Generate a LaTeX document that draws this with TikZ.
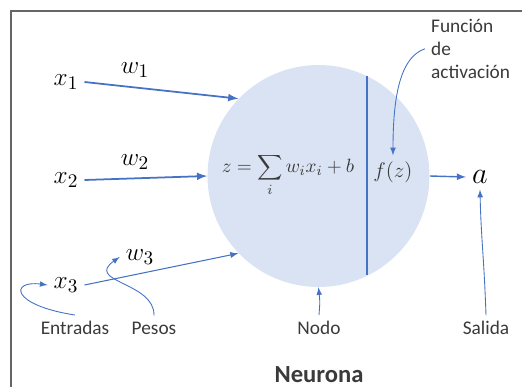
\documentclass[tikz,border=0pt]{standalone}
\usepackage{fontspec}
\setmainfont{Carlito}
\definecolor{azul}{HTML}{4472C4}
\definecolor{azulclaro}{HTML}{DAE3F3}
\definecolor{texto}{HTML}{3A3A3A}
\begin{document}
\begin{tikzpicture}[x=0.02cm, y=0.02cm, >=latex,
    entrada/.style={font=\fontsize{15}{17}\selectfont},
    peso/.style={font=\fontsize{15}{17}\selectfont},
    etiqueta/.style={font=\fontsize{11}{13}\selectfont, text=texto},
    flecha/.style={->, azul, line width=1pt},
    guia/.style={->, azul, line width=0.5pt}]
    \useasboundingbox (0,0) rectangle (522,387);

    % 1. Marco (solo borde superior e izquierdo)
    \draw[gray!80!black, line width=0.8pt] (11,0) -- (11,376) -- (522,376);

    % 2. Neurona
    \node[circle, fill=azulclaro, minimum size=222*0.02cm, inner sep=0pt] (neurona) at (318.5,211) {};
    \draw[azul, line width=1pt] (366.7,311) -- (366.7,112);
    \node[text=texto, font=\fontsize{11}{13}\selectfont] (suma) at (288,212) {$\displaystyle z=\sum_i w_i x_i+b$};
    \node[text=texto, font=\fontsize{12}{14}\selectfont] (fz) at (393,215) {$f(z)$};

    % 3. Entradas y pesos
    \node[entrada] (x1) at (66,305) {$x_1$};
    \node[entrada] (x2) at (66,207) {$x_2$};
    \node[entrada] (x3) at (66,102) {$x_3$};
    \node[peso] (w1) at (135,317) {$w_1$};
    \node[peso] (w2) at (135,225) {$w_2$};
    \node[peso] (w3) at (140,130) {$w_3$};
    \draw[flecha] (x1.east) -- (neurona.136);
    \draw[flecha] (x2.east) -- (neurona.west);
    \draw[flecha, line width=0.6pt] (x3.east) -- (neurona.224);

    % 4. Salida
    \node[font=\fontsize{17}{19}\selectfont] (a) at (480,210) {$a$};
    \draw[flecha, line width=0.8pt] (neurona.east) -- (a.west);

    % 5. Etiquetas
    \node[etiqueta] (entradas) at (75,59) {Entradas};
    \node[etiqueta] (pesos) at (154,59) {Pesos};
    \node[etiqueta] (nodo) at (319,59) {Nodo};
    \node[etiqueta] (salida) at (486,59) {Salida};
    \node[etiqueta, align=left, anchor=north west] (funcion) at (425,374) {Función\\de\\activación};
    \node[font=\fontsize{14}{16}\selectfont\bfseries, text=texto, anchor=base, inner sep=1pt] (titulo) at (319,5) {Neurona};

    % 6. Flechas de las etiquetas
    \draw[guia] (entradas.north) .. controls (10,82) and (10,107) .. (x3.west);
    \draw[guia] (pesos.north) .. controls (155,105) and (84,105) .. (w3.west);
    \draw[guia] (nodo.north) .. controls (320,85) .. (neurona.south);
    \draw[guia] (salida.north) .. controls (484,130) and (481,150) .. (a.south);
    \draw[guia] (funcion.west) .. controls (400,330) and (393,290) .. (fz.north);
\end{tikzpicture}
\end{document}
